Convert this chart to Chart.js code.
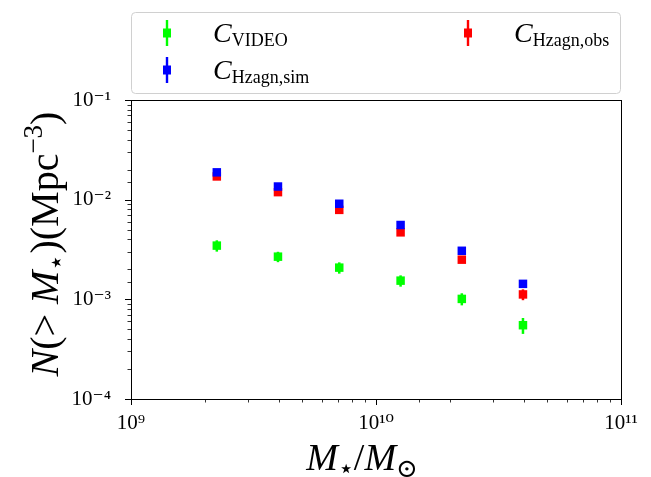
<!DOCTYPE html>
<html>
<head>
<meta charset="utf-8">
<script src="https://cdn.jsdelivr.net/npm/chart.js@4.4.0/dist/chart.umd.min.js"></script>
<style>
  body { margin: 0; background: #fff; }
</style>
</head>
<body>
<canvas id="myChart" width="651" height="477"></canvas>
<script>
// stellar mass bins (M_sun)
var massBins = [2.24e9, 3.98e9, 7.08e9, 1.26e10, 2.24e10, 3.98e10];

// cumulative number density N(>M*) in Mpc^-3, with 1-sigma errors
var videoN = [0.00346, 0.00268, 0.00208, 0.00154, 0.00101, 0.00055];
var videoErr = [0.00045, 0.00032, 0.00027, 0.00020, 0.00014, 0.00010];
var simN = [0.0188, 0.01355, 0.0091, 0.00557, 0.00307, 0.00143];
var simErr = [0.0006, 0.0004, 0.0003, 0.00018, 0.0001, 0.00006];
var obsN = [0.0171, 0.0119, 0.0079, 0.0047, 0.0025, 0.00112];
var obsErr = [0.0006, 0.0004, 0.0003, 0.00018, 0.0001, 0.00014];

// labelled ticks
var xTicks = [1e9, 1e10, 1e11];
var yTicks = [1e-4, 1e-3, 1e-2, 1e-1];

var SERIF = '"Liberation Serif", "DejaVu Serif", serif';
var GREEN = '#00ff00', BLUE = '#0000ff', RED = '#ff0000';

function toPoints(xs, ys) {
    var pts = [];
    for (var i = 0; i < xs.length; i++) pts.push({ x: xs[i], y: ys[i] });
    return pts;
}

function isLabelled(v, list) {
    for (var i = 0; i < list.length; i++) {
        if (Math.abs(Math.log10(v) - Math.log10(list[i])) < 1e-6) return true;
    }
    return false;
}

function sup(n) {
    var map = { '-': '\u207B', '0': '\u2070', '1': '\u00B9', '2': '\u00B2', '3': '\u00B3', '4': '\u2074',
        '5': '\u2075', '6': '\u2076', '7': '\u2077', '8': '\u2078', '9': '\u2079' };
    return String(n).split('').map(function (c) { return map[c]; }).join('');
}

function decadeLabel(list) {
    return function (v) {
        if (!isLabelled(v, list)) return '';
        return '10' + sup(Math.round(Math.log10(v)));
    };
}

// draw a sequence of text pieces with their own font / vertical shift
function drawRuns(ctx, runs, x, y, center) {
    var total = 0;
    runs.forEach(function (r) { ctx.font = r.font; total += ctx.measureText(r.t).width; });
    var cx = center ? x - total / 2 : x;
    runs.forEach(function (r) {
        ctx.font = r.font;
        ctx.fillText(r.t, cx, y + (r.dy || 0));
        cx += ctx.measureText(r.t).width;
    });
}

function errMarker(ctx, x, y, color) {
    ctx.fillStyle = color;
    ctx.fillRect(x - 1.2, y - 13, 2.4, 26);
    ctx.fillRect(x - 4, y - 4.5, 8, 9);
}

var framePlugin = {
    id: 'frame',
    beforeDatasetsDraw: function (chart) {
        var ctx = chart.ctx, xs = chart.scales.x, ys = chart.scales.y;
        ctx.save();
        chart.data.datasets.forEach(function (ds) {
            ctx.strokeStyle = ds.backgroundColor;
            ctx.lineWidth = 2.5;
            ds.data.forEach(function (p, i) {
                var e = ds.errs[i];
                var px = xs.getPixelForValue(p.x);
                ctx.beginPath();
                ctx.moveTo(px, ys.getPixelForValue(p.y - e));
                ctx.lineTo(px, ys.getPixelForValue(p.y + e));
                ctx.stroke();
            });
        });
        ctx.restore();
    },
    afterDraw: function (chart) {
        var ctx = chart.ctx, a = chart.chartArea;
        var xs = chart.scales.x, ys = chart.scales.y;
        ctx.save();
        ctx.strokeStyle = '#000';
        ctx.lineWidth = 1;
        ctx.strokeRect(a.left + 0.5, a.top + 0.5, a.right - a.left, a.bottom - a.top);

        // outward ticks, long on decades
        xs.ticks.forEach(function (t) {
            var px = Math.round(xs.getPixelForValue(t.value)) + 0.5;
            var len = isLabelled(t.value, xTicks) ? 6 : 3.5;
            ctx.lineWidth = len > 4 ? 1 : 0.8;
            ctx.beginPath();
            ctx.moveTo(px, a.bottom);
            ctx.lineTo(px, a.bottom + len);
            ctx.stroke();
        });
        ys.ticks.forEach(function (t) {
            var py = Math.round(ys.getPixelForValue(t.value)) + 0.5;
            var len = isLabelled(t.value, yTicks) ? 6 : 3.5;
            ctx.lineWidth = len > 4 ? 1 : 0.8;
            ctx.beginPath();
            ctx.moveTo(a.left, py);
            ctx.lineTo(a.left - len, py);
            ctx.stroke();
        });

        // axis titles
        ctx.fillStyle = '#000';
        ctx.textBaseline = 'alphabetic';
        drawRuns(ctx, [
            { t: 'M', font: 'italic 38px ' + SERIF },
            { t: '\u22C6', font: '26px ' + SERIF, dy: 7 },
            { t: '/', font: '38px ' + SERIF },
            { t: 'M', font: 'italic 38px ' + SERIF },
            { t: '\u2299', font: '26px ' + SERIF, dy: 7 }
        ], 362, 470, true);

        ctx.save();
        ctx.translate(58, 244);
        ctx.rotate(-Math.PI / 2);
        drawRuns(ctx, [
            { t: 'N', font: 'italic 40px ' + SERIF },
            { t: '(> ', font: '40px ' + SERIF },
            { t: 'M', font: 'italic 40px ' + SERIF },
            { t: '\u22C6', font: '27px ' + SERIF, dy: 7 },
            { t: ')(Mpc', font: '40px ' + SERIF },
            { t: '\u22123', font: '27px ' + SERIF, dy: -16 },
            { t: ')', font: '40px ' + SERIF }
        ], 0, 0, true);
        ctx.restore();

        // legend box
        ctx.fillStyle = 'rgba(255,255,255,0.8)';
        ctx.strokeStyle = '#d0d0d0';
        ctx.lineWidth = 1;
        ctx.beginPath();
        ctx.roundRect(131.5, 12.5, 489, 81, 4);
        ctx.fill();
        ctx.stroke();

        var entries = [
            { c: GREEN, sub: 'VIDEO', x: 167, y: 33 },
            { c: BLUE, sub: 'Hzagn,sim', x: 167, y: 70 },
            { c: RED, sub: 'Hzagn,obs', x: 468, y: 33 }
        ];
        entries.forEach(function (e) {
            errMarker(ctx, e.x, e.y, e.c);
            ctx.fillStyle = '#000';
            drawRuns(ctx, [
                { t: 'C', font: 'italic 28px ' + SERIF },
                { t: e.sub, font: '18px ' + SERIF, dy: 4 }
            ], e.x + 46, e.y + 9, false);
        });
        ctx.restore();
    }
};

var ctx = document.getElementById('myChart').getContext('2d');
var myChart = new Chart(ctx, {
    type: 'scatter',
    data: {
        datasets: [{
            label: 'C_VIDEO',
            data: toPoints(massBins, videoN),
            errs: videoErr,
            backgroundColor: GREEN,
            borderColor: GREEN
        }, {
            label: 'C_Hzagn,sim',
            data: toPoints(massBins, simN),
            errs: simErr,
            backgroundColor: BLUE,
            borderColor: BLUE
        }, {
            label: 'C_Hzagn,obs',
            data: toPoints(massBins, obsN),
            errs: obsErr,
            backgroundColor: RED,
            borderColor: RED
        }]
    },
    options: {
        responsive: false,
        animation: false,
        layout: { padding: { top: 100, right: 30, left: 0, bottom: 0 } },
        elements: { point: { pointStyle: 'rect', radius: 6, borderWidth: 0 } },
        plugins: { legend: { display: false }, tooltip: { enabled: false } },
        scales: {
            x: {
                type: 'logarithmic',
                min: 1e9,
                max: 1e11,
                grid: { display: false },
                border: { display: false },
                afterFit: function (s) { s.height = 78; },
                ticks: {
                    autoSkip: false,
                    maxRotation: 0,
                    padding: 4,
                    color: '#000',
                    font: { family: SERIF, size: 21 },
                    callback: decadeLabel(xTicks)
                }
            },
            y: {
                type: 'logarithmic',
                min: 1e-4,
                max: 1e-1,
                grid: { display: false },
                border: { display: false },
                afterFit: function (s) { s.width = 131; },
                ticks: {
                    autoSkip: false,
                    padding: 12,
                    color: '#000',
                    font: { family: SERIF, size: 21 },
                    callback: decadeLabel(yTicks)
                }
            }
        }
    },
    plugins: [framePlugin]
});
</script>
</body>
</html>
